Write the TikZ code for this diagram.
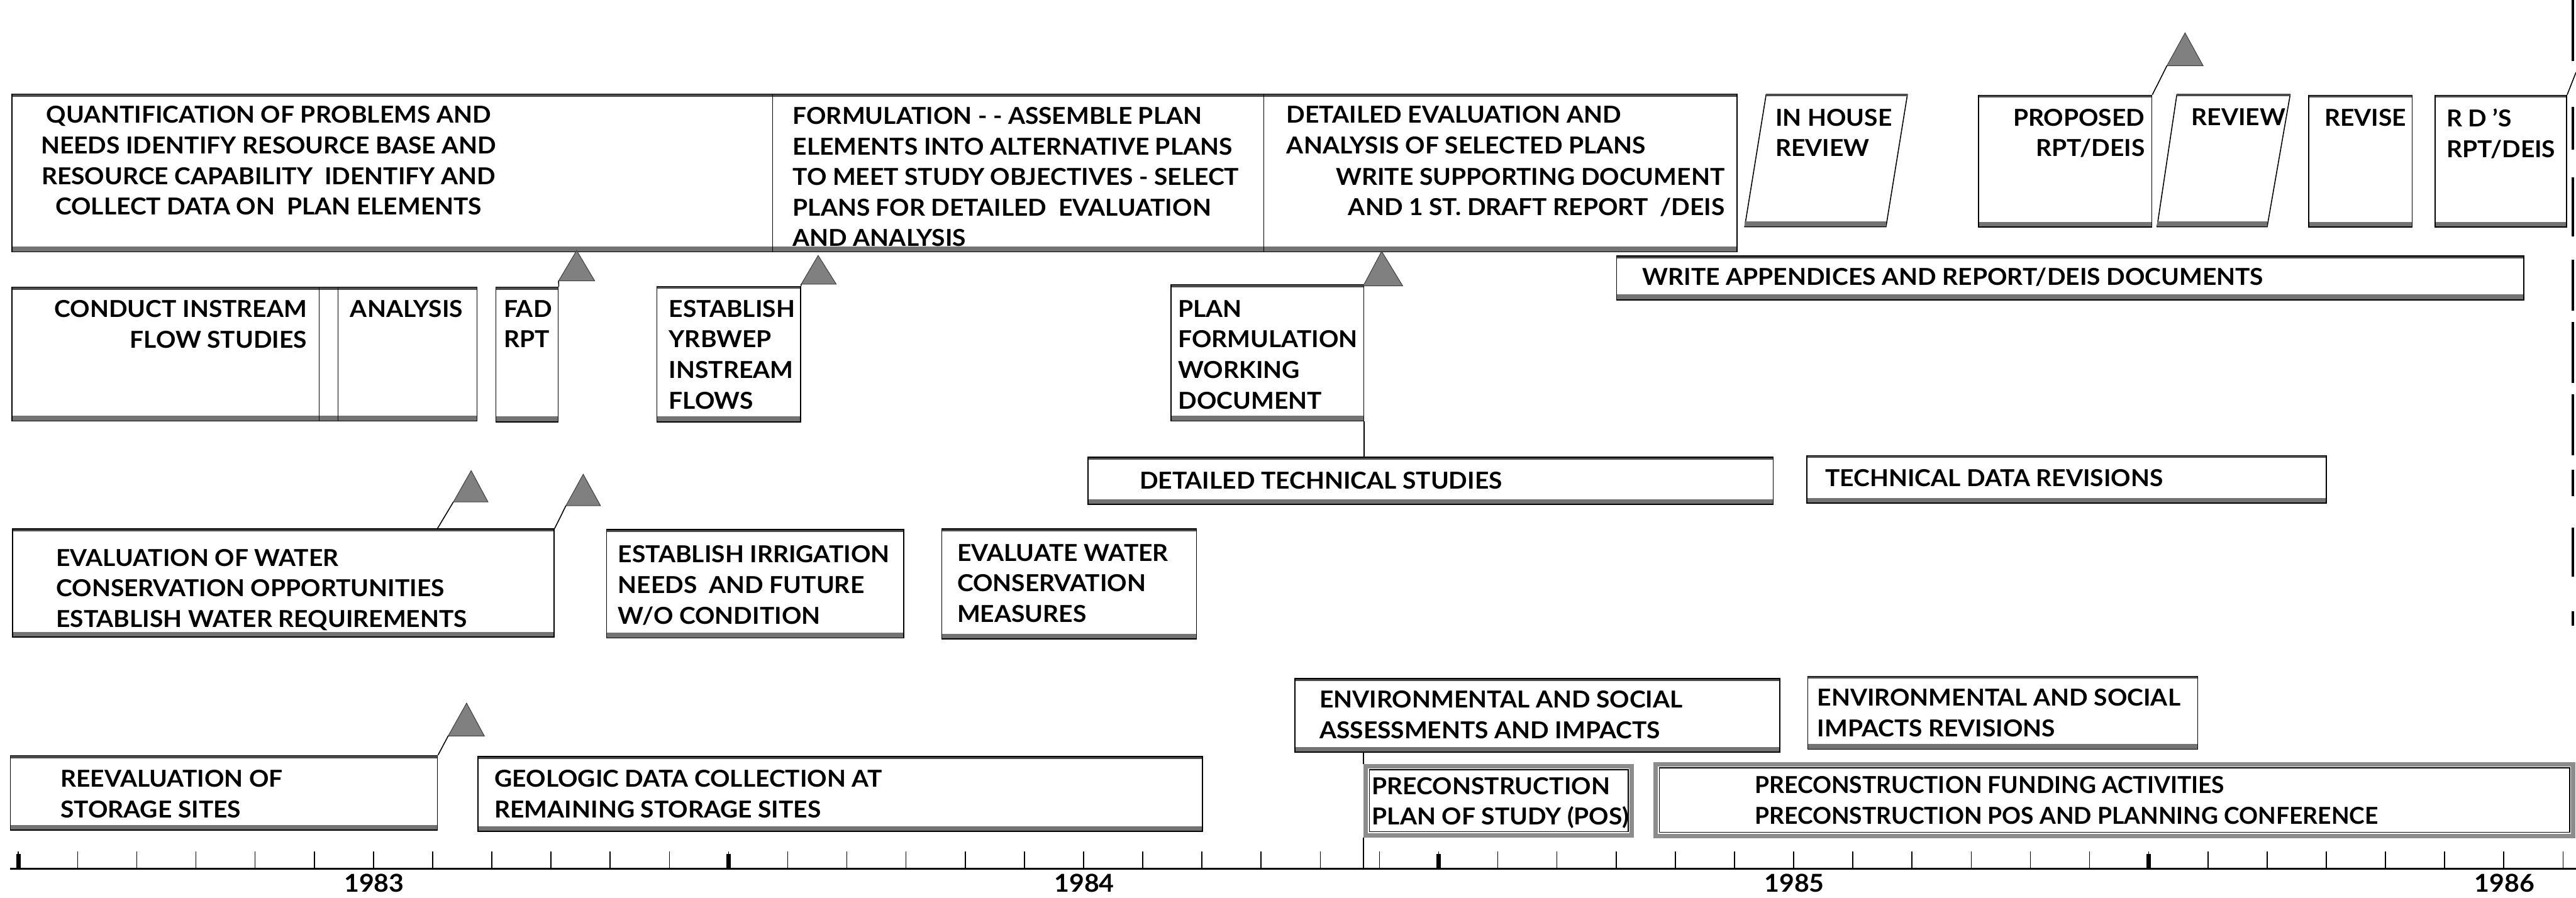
\documentclass[tikz,border=0pt]{standalone}
\usepackage{fontspec}
\setmainfont{Lato}[FakeStretch=1.05]
\newcommand\taskfont{\fontsize{14.2pt}{18.6pt}\selectfont\bfseries}
\newcommand\yearfont{\fontsize{15pt}{17pt}\selectfont\bfseries}

\begin{document}
\begin{tikzpicture}[x=1pt, y=-1pt,
  task/.style 2 args={draw, line width=0.6pt, fill=white, inner sep=0pt, anchor=north west,
    minimum width=#1, minimum height=#2,
    path picture={
      \fill[black!70] (path picture bounding box.north west) rectangle ([yshift=-1.5pt]path picture bounding box.north east);
      \fill[black!55] ([yshift=3.2pt]path picture bounding box.south west) rectangle (path picture bounding box.south east);}},
  dbltask/.style 2 args={draw=black!45, line width=2.6pt, fill=white, inner sep=0pt, anchor=north west,
    minimum width=#1, minimum height=#2,
    path picture={\draw[black, line width=0.6pt] ([shift={(2.2pt,-2.2pt)}]path picture bounding box.north west)
      rectangle ([shift={(-2.2pt,2.2pt)}]path picture bounding box.south east);}},
  txt/.style={inner sep=0pt, font=\taskfont, align=left, anchor=north west},
  txtr/.style={txt, align=right, anchor=north east},
  flag/.style={fill=black!50, draw=black!75, line width=0.4pt},
  pole/.style={line width=0.6pt}]

\fill[white] (0,0) rectangle (1568,546.3);
\useasboundingbox (0,0) rectangle (1568,546.3);

% top row
\node[task={463}{96}] (quant) at (7,57) {};
\node[task={299}{96}] (formu) at (470,57) {};
\node[task={288}{96}] (deteval) at (769,57) {};
\node[txt, align=center, anchor=north] (quantT) at (163.5,64.4) {QUANTIFICATION OF PROBLEMS AND\\NEEDS IDENTIFY RESOURCE BASE AND\\RESOURCE CAPABILITY\ \ IDENTIFY AND\\COLLECT DATA ON\ \ PLAN ELEMENTS};
\node[txt] (formuT) at (482.4,65) {FORMULATION - - ASSEMBLE PLAN\\ELEMENTS INTO ALTERNATIVE PLANS\\TO MEET STUDY OBJECTIVES - SELECT\\PLANS FOR DETAILED\ \ EVALUATION\\AND ANALYSIS};
\node[txt] (detevalT) at (783,64.4) {DETAILED EVALUATION AND\\ANALYSIS OF SELECTED PLANS};
\node[txtr] (writeT) at (1050,102) {WRITE SUPPORTING DOCUMENT\\AND 1 ST. DRAFT REPORT\ \ /DEIS};

\coordinate (ih1) at (1075,57.7);
\coordinate (ih2) at (1161,57.7);
\coordinate (ih3) at (1148,138);
\coordinate (ih4) at (1062,138);
\draw[line width=0.6pt, fill=white] (ih1) -- (ih2) -- (ih3) -- (ih4) -- cycle;
\draw[line width=1.5pt, black!70] (ih1) -- (ih2);
\draw[line width=3.2pt, black!55] ([yshift=1.6pt]ih4) -- ([yshift=1.6pt]ih3);
\node[txt] (inhouseT) at (1080.6,66) {IN HOUSE\\REVIEW};

\node[task={105.5}{80.3}] (proposed) at (1204,57.7) {};
\node[txtr] (proposedT) at (1305.7,66) {PROPOSED\\RPT/DEIS};

\coordinate (rv1) at (1325,57.7);
\coordinate (rv2) at (1394,57.7);
\coordinate (rv3) at (1380,138);
\coordinate (rv4) at (1313,138);
\draw[line width=0.6pt, fill=white] (rv1) -- (rv2) -- (rv3) -- (rv4) -- cycle;
\draw[line width=1.5pt, black!70] (rv1) -- (rv2);
\draw[line width=3.2pt, black!55] ([yshift=1.6pt]rv4) -- ([yshift=1.6pt]rv3);
\node[txt] (reviewT) at (1333.8,66) {REVIEW};

\node[task={63}{80.3}] (revise) at (1405,57.7) {};
\node[txt] (reviseT) at (1414.7,66) {REVISE};
\node[task={80}{80.3}] (rds) at (1482,57.7) {};
\node[txt] (rdsT) at (1489,66) {R D 'S\\RPT/DEIS};

% second row
\node[task={187}{81.5}] (conduct) at (7,174.5) {};
\node[task={11.4}{81.5}] (strip) at (194,174.5) {};
\node[task={84.6}{81.5}] (analysis) at (205.4,174.5) {};
\node[task={38}{82}] (fad) at (301.5,174.5) {};
\node[task={87.5}{82.5}] (yrbwep) at (399.5,174) {};
\node[task={117.3}{83}] (plan) at (712.5,173) {};
\node[task={552.3}{26.7}] (append) at (983.7,155.5) {};
\node[txtr] (conductT) at (187,182.6) {CONDUCT INSTREAM\\FLOW STUDIES};
\node[txt] (analysisT) at (213,182.6) {ANALYSIS};
\node[txt] (fadT) at (306.5,182.6) {FAD\\RPT};
\node[txt] (yrbwepT) at (407,182.5) {ESTABLISH\\YRBWEP\\INSTREAM\\FLOWS};
\node[txt] (planT) at (717,182.6) {PLAN\\FORMULATION\\WORKING\\DOCUMENT};
\node[txt] (appendT) at (999.6,162.7) {WRITE APPENDICES AND REPORT/DEIS DOCUMENTS};

% third row
\node[task={417}{28.7}] (dts) at (662,278) {};
\node[task={316}{29}] (tdr) at (1099.6,277) {};
\node[txt] (dtsT) at (693.5,287) {DETAILED TECHNICAL STUDIES};
\node[txt] (tdrT) at (1110.8,285.6) {TECHNICAL DATA REVISIONS};
\draw[pole] (plan.south east) -- (plan.south east |- dts.north);

% fourth row
\node[task={329.7}{65.8}] (evalw) at (7.3,321.7) {};
\node[task={180.8}{66}] (irrig) at (369,322) {};
\node[task={155}{66.9}] (evalc) at (573,321.7) {};
\node[txt] (evalwT) at (34,334) {EVALUATION OF WATER\\CONSERVATION OPPORTUNITIES\\ESTABLISH WATER REQUIREMENTS};
\node[txt] (irrigT) at (376,332) {ESTABLISH IRRIGATION\\NEEDS\ \ AND FUTURE\\W/O CONDITION};
\node[txt] (evalcT) at (582.5,331) {EVALUATE WATER\\CONSERVATION\\MEASURES};

% fifth row
\node[task={295}{44.7}] (envA) at (788,412.8) {};
\node[task={237.4}{44.4}] (envB) at (1100,411.4) {};
\node[task={260}{45.3}] (reeval) at (6,459.7) {};
\node[task={441.1}{45.5}] (geo) at (290.6,460.3) {};
\node[dbltask={162}{42.2}] (pos) at (830,465) {};
\node[dbltask={558.5}{43.5}] (fund) at (1006.5,464) {};
\node[txt] (envAT) at (803,420.3) {ENVIRONMENTAL AND SOCIAL\\ASSESSMENTS AND IMPACTS};
\node[txt] (envBT) at (1106,419.3) {ENVIRONMENTAL AND SOCIAL\\IMPACTS REVISIONS};
\node[txt] (reevalT) at (36.7,468.6) {REEVALUATION OF\\STORAGE SITES};
\node[txt] (geoT) at (300.9,468.6) {GEOLOGIC DATA COLLECTION AT\\REMAINING STORAGE SITES};
\node[txt] (posT) at (835,473) {PRECONSTRUCTION\\PLAN OF STUDY (POS)};
\node[txt, xscale=0.955, transform shape] (fundT) at (1068,472.4) {PRECONSTRUCTION FUNDING ACTIVITIES\\PRECONSTRUCTION POS AND PLANNING CONFERENCE};

% flags
\foreach \fname/\bx/\by/\w/\ax/\ay in {f1/340/171/22/351/152.5, f2/487.7/173/21.3/498/155.5,
    f3/829.8/174/24/841/153, f4/276/305.5/21/286.8/286.5, f5/344.5/307.8/21/355/288.7,
    f6/272.8/448/22/284/428, f7/1319/40/22/1330/20}{
  \coordinate (\fname) at (\bx,\by);
  \filldraw[flag] (\fname) -- ++(\w,0) -- (\ax,\ay) -- cycle;
}
\coordinate (f4foot) at (266.3,321.7);
\coordinate (rdsflag) at (1568,44);
\draw[pole] (fad.north east) -- (f1);
\draw[pole] (yrbwep.north east) -- (f2);
\draw[pole] (f4foot) -- (f4);
\draw[pole] (evalw.north east) -- (f5);
\draw[pole] (reeval.north east) -- (f6);
\draw[pole] (proposed.north east) -- (f7);
\draw[pole] (rds.north east) -- (rdsflag);

% right edge
\foreach \a/\b in {0/37,65/91,108/144,158/189,196/233,240/277,286/302,321/351,372/381}
  \draw[line width=1.4pt] (1566,\a) -- (1566,\b);

% time axis
\coordinate (axisL) at (6,529);
\coordinate (axisR) at (1568,529);
\draw[line width=1.2pt] (axisL) -- (axisR);
\foreach \k in {0,...,43}
  \draw[line width=0.6pt] ({11.2+36.02*\k},529) -- ++(0,-10.5);
\foreach \k in {0,12,24,36}
  \draw[line width=2.6pt] ({11.2+36.02*\k},529) -- ++(0,-9);
\foreach \yr [count=\i from 0] in {1983,1984,1985,1986}
  \node[font=\yearfont, inner sep=0pt] (yr\yr) at ({11.6+36.02*(12*\i+6)},537.5) {\yr};
\draw[pole] (pos.north west |- envA.south) -- (pos.north west);
\draw[pole] (pos.south west) -- (pos.south west |- axisL);
\end{tikzpicture}
\end{document}
